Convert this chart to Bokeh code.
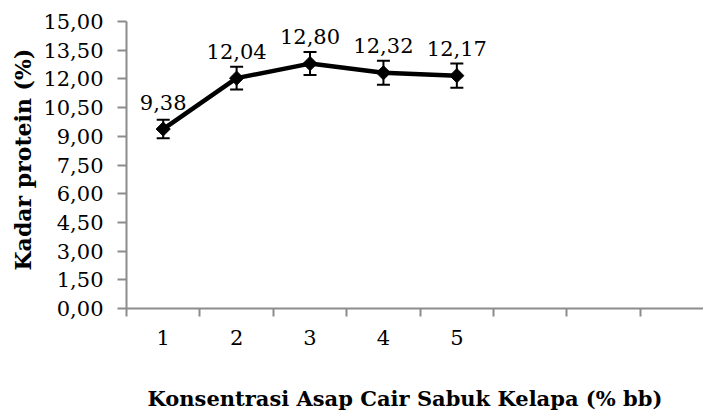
from bokeh.plotting import figure
from bokeh.models import (Range1d, FixedTicker, ColumnDataSource, Whisker, TeeHead, Title)
from bokeh.core.properties import value
from bokeh.embed import file_html
from bokeh.resources import INLINE

# Protein content per liquid-smoke concentration
concentration = [1, 2, 3, 4, 5]
concentration_labels = ["1", "2", "3", "4", "5"]
protein = [9.38, 12.04, 12.80, 12.32, 12.17]
protein_err = [0.48, 0.60, 0.60, 0.63, 0.63]

y_ticks = [0.0, 1.5, 3.0, 4.5, 6.0, 7.5, 9.0, 10.5, 12.0, 13.5, 15.0]
y_tick_labels = ["0,00", "1,50", "3,00", "4,50", "6,00", "7,50",
                 "9,00", "10,50", "12,00", "13,50", "15,00"]
category_bounds = [0.5, 1.5, 2.5, 3.5, 4.5, 5.5, 6.5, 7.5, 8.5]

FONT = "DejaVu Serif"
LABEL_SIZE = "21px"
AXIS_GREY = "#8c8c8c"

source = ColumnDataSource(data=dict(
    x=concentration,
    y=protein,
    lower=[v - e for v, e in zip(protein, protein_err)],
    upper=[v + e for v, e in zip(protein, protein_err)],
    label=[f"{v:.2f}".replace(".", ",") for v in protein],
))

p = figure(
    frame_width=577, frame_height=287,
    min_border_left=126, min_border_right=0,
    min_border_top=21, min_border_bottom=107,
    x_range=Range1d(0.5, 8.36), y_range=Range1d(0, 15),
    output_backend="svg", toolbar_location=None,
)
p.outline_line_color = None
p.xgrid.visible = False
p.ygrid.visible = False
p.background_fill_color = "white"
p.border_fill_color = "white"

# x axis: labels at category centres, ticks on category boundaries
xa = p.xaxis[0]
xa.ticker = FixedTicker(ticks=concentration, minor_ticks=category_bounds)
xa.major_label_overrides = {c: l for c, l in zip(concentration, concentration_labels)}
xa.major_tick_line_color = None
xa.major_tick_in = 0
xa.major_tick_out = 0
xa.minor_tick_in = 0
xa.minor_tick_out = 8
xa.minor_tick_line_color = AXIS_GREY
xa.minor_tick_line_width = 2
xa.axis_line_color = AXIS_GREY
xa.axis_line_width = 2
xa.major_label_text_font = FONT
xa.major_label_text_font_size = LABEL_SIZE
xa.major_label_text_color = "black"
xa.major_label_standoff = 13

# y axis
ya = p.yaxis[0]
ya.ticker = FixedTicker(ticks=y_ticks)
ya.major_label_overrides = {t: l for t, l in zip(y_ticks, y_tick_labels)}
ya.minor_tick_line_color = None
ya.major_tick_in = 0
ya.major_tick_out = 9
ya.major_tick_line_color = AXIS_GREY
ya.major_tick_line_width = 2
ya.axis_line_color = AXIS_GREY
ya.axis_line_width = 2
ya.major_label_text_font = FONT
ya.major_label_text_font_size = LABEL_SIZE
ya.major_label_text_color = "black"
ya.major_label_standoff = 14

# axis titles
p.add_layout(Title(text="Kadar protein (%)", align="left", offset=38,
                   text_font=FONT, text_font_size="22px",
                   text_font_style="bold", text_color="black",
                   standoff=10), "left")
p.add_layout(Title(text="Konsentrasi Asap Cair Sabuk Kelapa (% bb)",
                   align="left", offset=21, text_font=FONT,
                   text_font_size="21px", text_font_style="bold",
                   text_color="black", standoff=72), "below")

# error bars
p.add_layout(Whisker(source=source, base="x", lower="lower", upper="upper",
                     line_color="black", line_width=2,
                     upper_head=TeeHead(size=13, line_color="black", line_width=2),
                     lower_head=TeeHead(size=13, line_color="black", line_width=2)))

# line and markers
p.line("x", "y", source=source, line_color="black", line_width=4.5)
p.scatter("x", "y", source=source, marker="square", angle=0.785398, size=10,
          fill_color="black", line_color="black", line_width=1)

# value labels
p.text("x", "y", text="label", source=source, text_align="center",
       text_baseline="alphabetic", y_offset=-27, text_font=value(FONT),
       text_font_size=LABEL_SIZE, text_color="black")

open("out.html", "w").write(file_html(p, INLINE))
